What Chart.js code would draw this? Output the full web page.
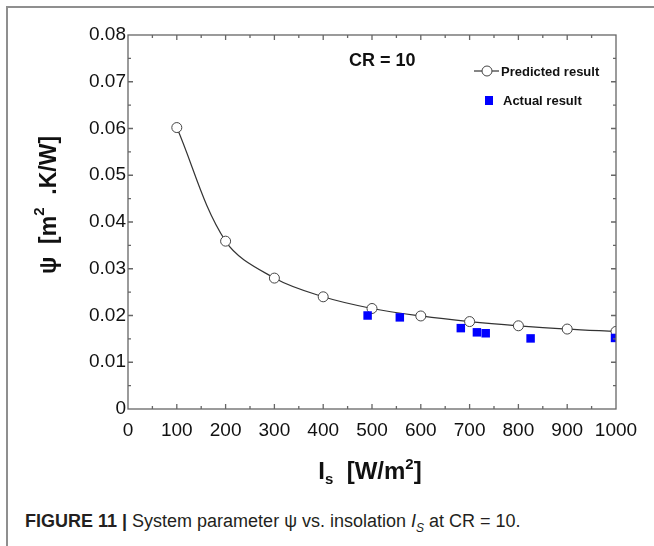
<!DOCTYPE html>
<html>
<head>
<meta charset="utf-8">
<script src="https://cdn.jsdelivr.net/npm/chart.js@4.4.0/dist/chart.umd.min.js"></script>
<style>
html, body { margin: 0; padding: 0; background: #fff; }
body { width: 654px; height: 546px; position: relative; overflow: hidden; }
#frame { position: absolute; left: 6px; top: 6px; width: 700px; height: 600px;
         border-left: 2px solid #8f8f8f; border-top: 2px solid #8f8f8f; }
#wrap { position: absolute; left: 0; top: 0; width: 637px; height: 500px; overflow: hidden; }
#caption { position: absolute; left: 25px; top: 511px; font: 18px "Liberation Sans", Arial, sans-serif;
           color: #231f20; white-space: nowrap; }
</style>
</head>
<body>
<div id="frame"></div>
<div id="wrap"><canvas id="chart" width="654" height="500"></canvas></div>
<div id="caption"><b>FIGURE 11 |</b> System parameter ψ vs. insolation <i>I<sub style="font-size:12px">S</sub></i> at CR = 10.</div>

<script>
// insolation [W/m2] and psi [m2.K/W]
const predX = [100, 200, 300, 400, 500, 600, 700, 800, 900, 1000];
const predY = [0.0602, 0.0359, 0.0280, 0.0240, 0.0215, 0.0199, 0.0187, 0.0178, 0.0171, 0.0166];

const actX = [491, 557, 682, 715, 733, 825, 998];
const actY = [0.0200, 0.0196, 0.0173, 0.0164, 0.0162, 0.0151, 0.0152];

const xTicks = [0, 100, 200, 300, 400, 500, 600, 700, 800, 900, 1000];
const yTicks = [0, 0.01, 0.02, 0.03, 0.04, 0.05, 0.06, 0.07, 0.08];

const FONT = '"Liberation Sans", Arial, sans-serif';

// draw a run of text pieces, some raised or lowered
function drawPieces(ctx, pieces, x, y) {
    let total = 0;
    pieces.forEach(p => {
        ctx.font = p.font;
        total += ctx.measureText(p.t).width;
    });
    let cx = x - total / 2;
    pieces.forEach(p => {
        ctx.font = p.font;
        ctx.fillText(p.t, cx, y + (p.dy || 0));
        cx += ctx.measureText(p.t).width;
    });
}

const extras = {
    id: "extras",
    afterDraw(c) {
        const ctx = c.ctx;
        const a = c.chartArea;
        const xs = c.scales.x, ys = c.scales.y;
        ctx.save();

        // box + inward ticks
        ctx.strokeStyle = "#666";
        ctx.lineWidth = 1.3;
        ctx.strokeRect(a.left, a.top, a.right - a.left, a.bottom - a.top);
        ctx.beginPath();
        for (let v = 50; v < 1000; v += 50) {
            const px = xs.getPixelForValue(v);
            const len = v % 100 === 0 ? 5 : 3;
            ctx.moveTo(px, a.bottom); ctx.lineTo(px, a.bottom - len);
            ctx.moveTo(px, a.top); ctx.lineTo(px, a.top + len);
        }
        for (let i = 1; i < 16; i++) {
            const py = ys.getPixelForValue(i * 0.005);
            const len = i % 2 === 0 ? 5 : 3;
            ctx.moveTo(a.left, py); ctx.lineTo(a.left + len, py);
            ctx.moveTo(a.right, py); ctx.lineTo(a.right - len, py);
        }
        ctx.stroke();

        ctx.fillStyle = "#111";
        ctx.textBaseline = "alphabetic";
        ctx.textAlign = "left";

        // x title
        drawPieces(ctx, [
            { t: "I", font: "bold 24px " + FONT },
            { t: "s", font: "bold 15px " + FONT, dy: 5 },
            { t: "  [W/m", font: "bold 24px " + FONT },
            { t: "2", font: "bold 15px " + FONT, dy: -10 },
            { t: "]", font: "bold 24px " + FONT }
        ], 370, 479);

        // y title
        ctx.save();
        ctx.translate(56, 205);
        ctx.rotate(-Math.PI / 2);
        drawPieces(ctx, [
            { t: "ψ", font: "bold 23px " + FONT },
            { t: "  [m", font: "bold 23px " + FONT },
            { t: "2", font: "bold 15px " + FONT, dy: -12 },
            { t: "  .K/W]", font: "bold 23px " + FONT }
        ], 0, 0);
        ctx.restore();

        // CR label
        ctx.textBaseline = "middle";
        ctx.font = "bold 18px " + FONT;
        ctx.fillText("CR = 10", 349, 61);

        // legend
        ctx.strokeStyle = "#333";
        ctx.lineWidth = 1.2;
        ctx.beginPath();
        ctx.moveTo(474, 71); ctx.lineTo(499, 71);
        ctx.stroke();
        ctx.beginPath();
        ctx.arc(487, 71, 5, 0, Math.PI * 2);
        ctx.fillStyle = "#fff";
        ctx.fill();
        ctx.strokeStyle = "#444";
        ctx.lineWidth = 1;
        ctx.stroke();
        ctx.fillStyle = "#0000ff";
        ctx.fillRect(485, 96, 8, 9);

        ctx.fillStyle = "#111";
        ctx.font = "bold 13px " + FONT;
        ctx.fillText("Predicted result", 501, 72);
        ctx.fillText("Actual result", 503, 101);

        ctx.restore();
    }
};

chart = new Chart(document.getElementById("chart"), {
    type: "scatter",
    data: {
        datasets: [{
            label: "Actual result",
            data: actX.map((x, i) => ({ x: x, y: actY[i] })),
            pointStyle: "rect",
            pointRadius: 6,
            pointBackgroundColor: "#0000ff",
            pointBorderWidth: 0,
            order: 0
        }, {
            type: "line",
            label: "Predicted result",
            data: predX.map((x, i) => ({ x: x, y: predY[i] })),
            borderColor: "#333",
            borderWidth: 1.2,
            tension: 0.35,
            pointRadius: 5,
            pointBackgroundColor: "#fff",
            pointBorderColor: "#444",
            pointBorderWidth: 1,
            fill: false,
            order: 1
        }]
    },
    options: {
        responsive: false,
        animation: false,
        events: [],
        layout: { padding: { left: 0, top: 35, right: 38, bottom: 51 } },
        plugins: { legend: { display: false }, tooltip: { enabled: false } },
        scales: {
            x: {
                type: "linear",
                min: 0, max: 1000,
                afterFit: s => { s.height = 40; },
                afterBuildTicks: s => { s.ticks = xTicks.map(v => ({ value: v })); },
                grid: { display: false, drawTicks: false },
                border: { display: false },
                ticks: {
                    color: "#111", padding: 10, maxRotation: 0, autoSkip: false,
                    font: { family: FONT, size: 19 },
                    callback: v => String(v)
                }
            },
            y: {
                min: 0, max: 0.08,
                afterFit: s => { s.width = 128; },
                afterBuildTicks: s => { s.ticks = yTicks.map(v => ({ value: v })); },
                grid: { display: false, drawTicks: false },
                border: { display: false },
                ticks: {
                    color: "#111", padding: 2, autoSkip: false, font: { family: FONT, size: 19 },
                    callback: v => v === 0 ? "0" : v.toFixed(2)
                }
            }
        }
    },
    plugins: [extras]
});
</script>
</body>
</html>
